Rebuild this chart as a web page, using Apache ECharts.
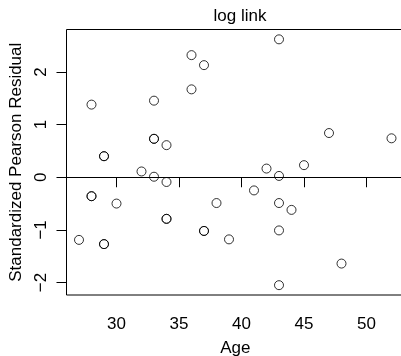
<!DOCTYPE html>
<html>
<head>
<meta charset="utf-8">
<script src="https://cdn.jsdelivr.net/npm/echarts@6/dist/echarts.min.js"></script>
<style>html,body{margin:0;padding:0;background:#fff}#c{width:401px;height:356px}</style>
</head>
<body>
<div id="c"></div>
<script>
var ages = [27, 28, 28, 28, 29, 29, 29, 29, 30, 32, 33, 33, 33, 33, 34, 34, 34, 34, 36, 36, 37, 37, 37, 38, 39, 41, 42, 43, 43, 43, 43, 43, 44, 45, 47, 48, 52];
var residuals = [-1.19, 1.38, -0.36, -0.36, 0.40, 0.40, -1.27, -1.27, -0.50, 0.11, 1.455, 0.73, 0.73, 0.01, 0.61, -0.09, -0.79, -0.79, 2.32, 1.67, 2.13, -1.02, -1.02, -0.49, -1.18, -0.25, 0.165, 2.62, 0.025, -0.49, -1.01, -2.05, -0.62, 0.23, 0.84, -1.64, 0.74];
var xTicks = [30, 35, 40, 45, 50];
var yTicks = [-2, -1, 0, 1, 2];
var titleText = 'log link';
var xName = 'Age';
var yName = 'Standardized Pearson Residual';

var pts = ages.map(function (a, i) { return [a, residuals[i]]; });
var font = '"Liberation Sans", Arial, sans-serif';
var fs = 17;
var chart = echarts.init(document.getElementById('c'), null, {renderer: 'canvas'});
chart.setOption({
  animation: false,
  backgroundColor: '#fff',
  title: {text: titleText, left: 235, top: 3, textAlign: 'center',
    textStyle: {fontFamily: font, fontSize: fs, fontWeight: 'normal', color: '#000'}},
  grid: {left: 66.5, top: 29.5, right: -3, bottom: 61, containLabel: false, outerBoundsMode: 'none',
    show: true, borderColor: '#000', borderWidth: 1, backgroundColor: 'transparent'},
  xAxis: {
    type: 'value', min: 26, max: 53,
    name: xName, nameLocation: 'middle', nameGap: 45,
    nameTextStyle: {fontFamily: font, fontSize: fs, color: '#000'},
    axisLine: {show: false},
    splitLine: {show: false},
    axisTick: {show: true, inside: false, length: 10, lineStyle: {color: '#000', width: 1}, customValues: xTicks},
    axisLabel: {show: true, margin: 21, fontFamily: font, fontSize: fs, color: '#000', customValues: xTicks}
  },
  yAxis: {
    type: 'value', min: -2.237, max: 2.807,
    name: yName, nameLocation: 'middle', nameGap: 33, nameRotate: 90,
    nameTextStyle: {fontFamily: font, fontSize: fs, color: '#000'},
    axisLine: {show: false},
    splitLine: {show: false},
    axisTick: {show: true, inside: false, length: 10, lineStyle: {color: '#000', width: 1}, customValues: yTicks},
    axisLabel: {show: true, margin: 17, rotate: 90, fontFamily: font, fontSize: fs, color: '#000', customValues: yTicks,
      formatter: function (v) { return String(v).replace('-', '\u2212'); }}
  },
  series: [{
    type: 'scatter',
    data: pts,
    symbol: 'circle',
    symbolSize: 9,
    itemStyle: {color: 'transparent', borderColor: '#000', borderWidth: 1},
    markLine: {
      silent: true, symbol: ['none', 'none'], label: {show: false},
      lineStyle: {color: '#000', width: 1, type: 'solid'},
      data: [{yAxis: 0}]
    }
  }]
});
</script>
</body>
</html>
